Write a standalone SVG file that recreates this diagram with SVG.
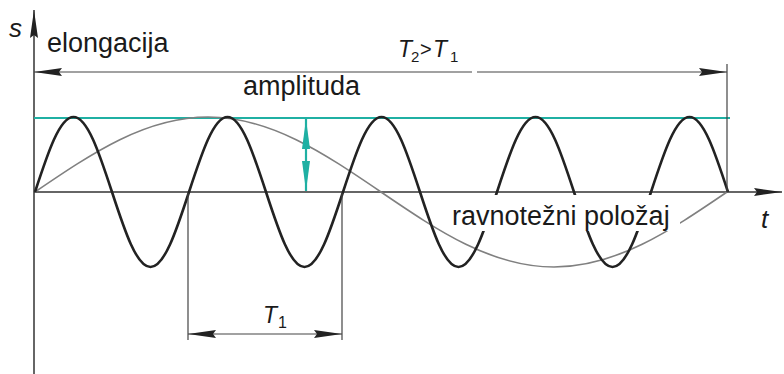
<svg xmlns="http://www.w3.org/2000/svg" width="784" height="374" viewBox="0 0 784 374">
<style>
.ax{stroke:#333;stroke-width:1.5;fill:none}
.dim{stroke:#444;stroke-width:1.2;fill:none}
.thick{stroke:#222;stroke-width:2.6;fill:none;stroke-linejoin:round}
.thin{stroke:#808080;stroke-width:1.6;fill:none}
.teal{stroke:#1fb0a3;stroke-width:2.2;fill:none}
text{font-family:"Liberation Sans",Arial,sans-serif;fill:#1a1a1a}
.lbl{font-size:27px}
.it{font-style:italic}
</style>
<defs>
<marker id="ah" viewBox="0 0 28 8" refX="28" refY="4" markerWidth="28" markerHeight="8" markerUnits="userSpaceOnUse" orient="auto-start-reverse">
<path d="M0,0 L28,4 L0,8 L3,4 z" fill="#222"/>
</marker>
<marker id="ahT" viewBox="0 0 30 8" refX="30" refY="4" markerWidth="30" markerHeight="8" markerUnits="userSpaceOnUse" orient="auto-start-reverse">
<path d="M0,0 L30,4 L0,8 z" fill="#1fb0a3"/>
</marker>
</defs>
<g id="axes">
<line class="ax" x1="34" y1="374" x2="34" y2="10" marker-end="url(#ah)"/>
<line class="ax" x1="34" y1="192" x2="782" y2="192" marker-end="url(#ah)"/>
<text class="lbl it" x="9" y="37" style="font-size:26px">s</text>
<text class="lbl it" x="761" y="228" style="font-size:26px">t</text>
</g>
<g id="amplitude-line">
<line class="teal" x1="34" y1="118" x2="730" y2="118"/>
</g>
<g id="wave-T2">
<path class="thin" d="M35,192 C92.83,152.62 145.74,117 208,117 S323.17,152.62 381,192 S491.74,267 554,267 S669.17,231.38 727,192"/>
</g>
<g id="wave-T1">
<path class="thick" d="M35,192 C47.87,152.62 59.64,117 73.5,117 S99.13,152.62 112,192 S136.64,267 150.5,267 S176.13,231.38 189,192 S213.64,117 227.5,117 S253.13,152.62 266,192 S290.64,267 304.5,267 S330.13,231.38 343,192 S367.64,117 381.5,117 S407.13,152.62 420,192 S444.64,267 458.5,267 S484.13,231.38 497,192 S521.64,117 535.5,117 S561.13,152.62 574,192 S598.64,267 612.5,267 S638.13,231.38 651,192 S675.64,117 689.5,117 S715.13,152.62 728,192"/>
</g>
<g id="connectors">
<line class="dim" x1="727" y1="64" x2="727" y2="192"/>
<line class="dim" x1="472" y1="72" x2="34" y2="72" marker-end="url(#ah)"/>
<line class="dim" x1="477" y1="72" x2="727" y2="72" marker-end="url(#ah)"/>
<line class="dim" x1="188" y1="193" x2="188" y2="340"/>
<line class="dim" x1="342" y1="193" x2="342" y2="340"/>
<line class="dim" x1="188" y1="334" x2="342" y2="334" marker-start="url(#ah)" marker-end="url(#ah)"/>
<line class="teal" x1="306" y1="119" x2="306" y2="191" marker-start="url(#ahT)" marker-end="url(#ahT)"/>
</g>
<g id="label-elongacija">
<text class="lbl" x="47" y="52">elongacija</text>
</g>
<g id="label-amplituda">
<text class="lbl" x="243" y="95">amplituda</text>
</g>
<g id="label-T2T1">
<text style="font-size:23px"><tspan class="it" x="398" y="57">T</tspan><tspan x="411" y="62" style="font-size:15px">2</tspan><tspan x="420" y="56" style="font-size:20px">&gt;</tspan><tspan class="it" x="433" y="57">T</tspan><tspan x="450" y="62" style="font-size:15px">1</tspan></text>
</g>
<g id="label-T1">
<text style="font-size:23px"><tspan class="it" x="263" y="323">T</tspan><tspan x="278" y="328" style="font-size:16px">1</tspan></text>
</g>
<g id="label-ravnotezni">
<rect x="450" y="195" width="230" height="36" fill="#fff"/>
<text class="lbl" x="452" y="225">ravnotežni položaj</text>
</g>
</svg>
